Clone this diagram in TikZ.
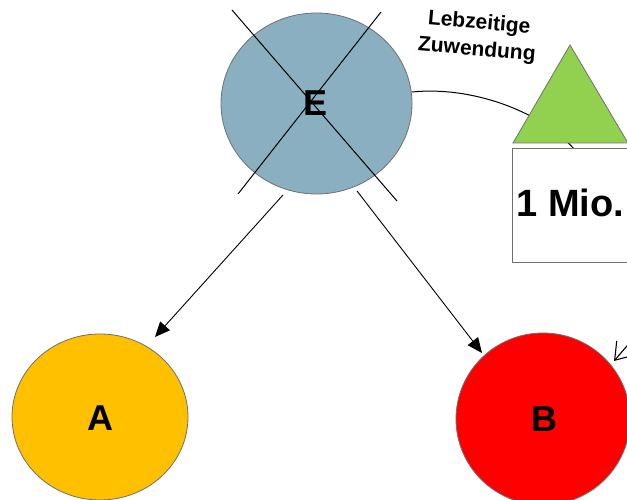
\documentclass[tikz,border=0pt]{standalone}
\usepackage{fontspec}
\setmainfont{Liberation Sans}
\usetikzlibrary{arrows.meta,shapes.geometric}
\definecolor{eblue}{HTML}{8AAFC0}
\definecolor{agold}{HTML}{FFC000}
\definecolor{bred}{HTML}{FF0000}
\definecolor{tgreen}{HTML}{92D050}
\definecolor{edge}{HTML}{707070}
\begin{document}
\begin{tikzpicture}[x=1pt,y=-1pt,
  person/.style={draw=edge,line width=0.8pt},
  lbl/.style={font=\bfseries\fontsize{36}{40}\selectfont},
  link/.style={line width=0.9pt,-{Triangle[length=15pt,width=13pt]}},
  crossline/.style={line width=1pt}]
\useasboundingbox (0,0) rectangle (627,500);
\fill[white] (0,0) rectangle (627,500);
% persons
\draw[person,fill=eblue] (316.5,103.5) ellipse [x radius=95.5, y radius=90.5];
\draw[person,fill=agold] (100,417) ellipse [x radius=88, y radius=83];
\draw[person,fill=bred] (543,419) ellipse [x radius=87, y radius=86];
\node[lbl] (E) at (316,103) {E};
\node[lbl] (A) at (100,418) {A};
\node[lbl] (B) at (544,419) {B};
% cross
\coordinate (c1a) at (232,10); \coordinate (c1b) at (397,201);
\coordinate (c2a) at (381,12); \coordinate (c2b) at (238,194);
\draw[crossline] (c1a) -- (c1b);
\draw[crossline] (c2a) -- (c2b);
% arrows
\coordinate (ea) at (283,195); \coordinate (ta) at (155,337);
\coordinate (eb) at (357,191); \coordinate (tb) at (482,353);
\draw[link] (ea) -- (ta);
\draw[link] (eb) -- (tb);
% curve to triangle
\coordinate (er) at (412,92); \coordinate (tt) at (575,150);
\draw[line width=1pt] (er) .. controls (470,86) and (540,110) .. (tt);
% triangle and box
\draw[draw=edge,line width=0.8pt,fill=tgreen] (570,45) -- (628,143) -- (513,143) -- cycle;
\draw[draw=edge,line width=0.8pt,fill=white] (512,148) rectangle (640,262);
\node[font=\bfseries\fontsize{38}{42}\selectfont,anchor=west] (mio) at (513,203) {1 Mio.};
% label
\node[font=\bfseries\fontsize{21}{27}\selectfont,align=center,rotate=-5] (lz) at (478,37) {Lebzeitige\\Zuwendung};
% arrow near B
\coordinate (bs) at (645,325); \coordinate (bt) at (614,361);
\draw[line width=1.1pt,-{Straight Barb[length=16pt,width=22pt]}] (bs) -- (bt);
\end{tikzpicture}
\end{document}
